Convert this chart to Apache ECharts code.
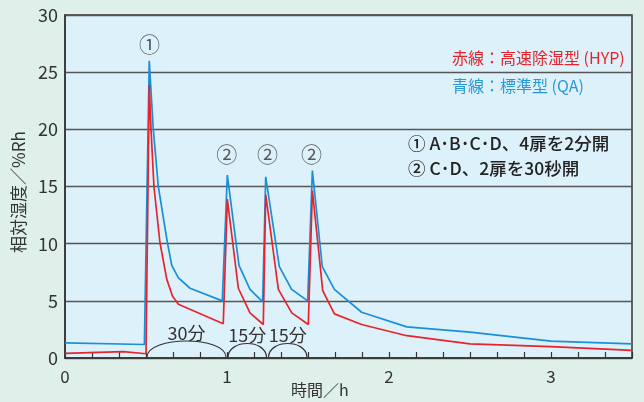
<!DOCTYPE html>
<html><head><meta charset="utf-8">
<script src="https://cdn.jsdelivr.net/npm/echarts@6/dist/echarts.min.js"></script>
<style>html,body{margin:0;padding:0;background:#dfefe9;}#c{width:644px;height:402px;}</style>
</head><body><div id="c"></div>
<script>
// ---- data ----
const hoursBlue = [0, 0.49, 0.52, 0.545, 0.576, 0.632, 0.659, 0.70, 0.772, 0.971, 1.002, 1.074, 1.142, 1.22, 1.239, 1.323, 1.399, 1.498, 1.527, 1.588, 1.663, 1.831, 2.11, 2.5, 3.0, 3.5];
const rhBlue    = [1.33, 1.18, 26.0, 20.0, 15.0, 10.1, 8.1, 7.0, 6.1, 5.0, 16.0, 8.1, 6.0, 4.9, 15.85, 8.0, 6.0, 5.0, 16.4, 8.0, 6.0, 4.0, 2.72, 2.26, 1.47, 1.24];
const hoursRed  = [0, 0.36, 0.50, 0.52, 0.531, 0.549, 0.586, 0.628, 0.664, 0.70, 0.977, 1.002, 1.07, 1.142, 1.224, 1.239, 1.317, 1.40, 1.502, 1.527, 1.591, 1.663, 1.831, 2.11, 2.5, 3.0, 3.5];
const rhRed     = [0.4, 0.55, 0.37, 23.9, 20.0, 15.0, 10.1, 6.9, 5.4, 4.7, 3.0, 13.9, 6.1, 3.95, 2.93, 14.3, 6.0, 3.95, 2.93, 14.65, 5.9, 3.86, 2.93, 1.95, 1.24, 1.0, 0.66];
const markHours = [0.521, 0.999, 1.25, 1.522];
const markRh    = [27.5, 17.8, 17.8, 17.8];
const markText  = ['①', '②', '②', '②'];
const arcStart  = [0.5, 1.0, 1.25];
const arcEnd    = [1.0, 1.25, 1.5];
const arcLabel  = ['30分', '15分', '15分'];
const yTicks    = [0, 5, 10, 15, 20, 25, 30];
const xTicks    = [0, 1, 2, 3];

const FONT = "'Noto Sans CJK JP', 'Noto Sans', sans-serif";
const TXT = '#333';
const RED = '#e8232c';
const BLUE = '#1a8fd8';

const chart = echarts.init(document.getElementById('c'));
const zip = (a, b) => a.map((v, i) => [v, b[i]]);

chart.setOption({
  backgroundColor: '#dfefe9',
  animation: false,
  textStyle: { fontFamily: FONT },
  grid: { left: 65, right: 12, top: 15, bottom: 44, show: true, backgroundColor: '#ddf1fa', borderColor: '#333', borderWidth: 1.5 },
  xAxis: {
    type: 'value', min: 0, max: 3.5, interval: 1,
    axisLine: { show: true, lineStyle: { color: '#333', width: 1.5 } },
    axisTick: { show: true, inside: true, length: 6, lineStyle: { color: '#333', width: 1.2 } },
    minorTick: { show: true, splitNumber: 6, length: 6, lineStyle: { color: '#333', width: 1.2 } },
    splitLine: { show: false },
    axisLabel: { fontSize: 17, color: TXT, margin: 10, showMaxLabel: false, fontFamily: FONT,
      formatter: v => xTicks.includes(v) ? String(v) : '' }
  },
  yAxis: {
    type: 'value', min: 0, max: 30, interval: 5,
    axisLine: { show: true, lineStyle: { color: '#333', width: 1.5 } },
    axisTick: { show: false },
    splitLine: { show: true, lineStyle: { color: '#555', width: 1.3 } },
    axisLabel: { fontSize: 18, color: TXT, margin: 7, fontFamily: FONT,
      formatter: v => yTicks.includes(v) ? String(v) : '' }
  },
  graphic: [
    { type: 'text', x: 19, y: 192, rotation: Math.PI / 2,
      style: { text: '相対湿度／%Rh', x: 0, y: 0, textAlign: 'center', textVerticalAlign: 'middle', font: '17px ' + FONT, fill: TXT } },
    { type: 'text', left: 291, top: 382, style: { text: '時間／h', font: '16px ' + FONT, fill: TXT } },
    { type: 'text', left: 452, top: 50, style: { text: '赤線：高速除湿型 (HYP)', font: '16px ' + FONT, fill: RED } },
    { type: 'text', left: 452, top: 78, style: { text: '青線：標準型 (QA)', font: '16px ' + FONT, fill: '#2a98d6' } },
    { type: 'text', left: 408, top: 135, style: { text: '① A･B･C･D、4扉を2分開', font: '500 17.5px ' + FONT, fill: '#222' } },
    { type: 'text', left: 408, top: 160, style: { text: '② C･D、2扉を30秒開', font: '500 17.5px ' + FONT, fill: '#222' } }
  ],
  series: [
    { type: 'line', data: zip(hoursBlue, rhBlue), showSymbol: false, symbol: 'none',
      lineStyle: { color: BLUE, width: 1.7 }, z: 3 },
    { type: 'line', data: zip(hoursRed, rhRed), showSymbol: false, symbol: 'none',
      lineStyle: { color: RED, width: 1.7 }, z: 4 },
    { type: 'scatter', symbolSize: 0, z: 5,
      data: markHours.map((h, i) => ({ value: [h, markRh[i]], name: markText[i] })),
      label: { show: true, position: 'inside', formatter: p => p.name, fontSize: 21, color: TXT, fontFamily: FONT } },
    { type: 'custom', z: 5,
      data: arcStart.map((s, i) => [s, arcEnd[i], i]),
      renderItem: function (params, api) {
        const s = api.value(0), e = api.value(1), i = api.value(2);
        const p0 = api.coord([s, 0]);
        const p1 = api.coord([e, 0]);
        const h = (e - s) >= 0.5 ? 16 : 13.5;
        const k = h * 4 / 3;
        const y0 = p0[1] - 1;
        return {
          type: 'group',
          children: [
            { type: 'bezierCurve',
              shape: { x1: p0[0] + 1, y1: y0, x2: p1[0] - 1, y2: y0,
                       cpx1: p0[0] + 2, cpy1: y0 - k, cpx2: p1[0] - 2, cpy2: y0 - k },
              style: { stroke: '#333', lineWidth: 1.2, fill: null } },
            { type: 'text',
              style: { text: arcLabel[i], x: (p0[0] + p1[0]) / 2, y: y0 - h + 1,
                       textAlign: 'center', textVerticalAlign: 'bottom', font: '18px ' + FONT, fill: TXT } }
          ]
        };
      }
    }
  ]
});
</script></body></html>
